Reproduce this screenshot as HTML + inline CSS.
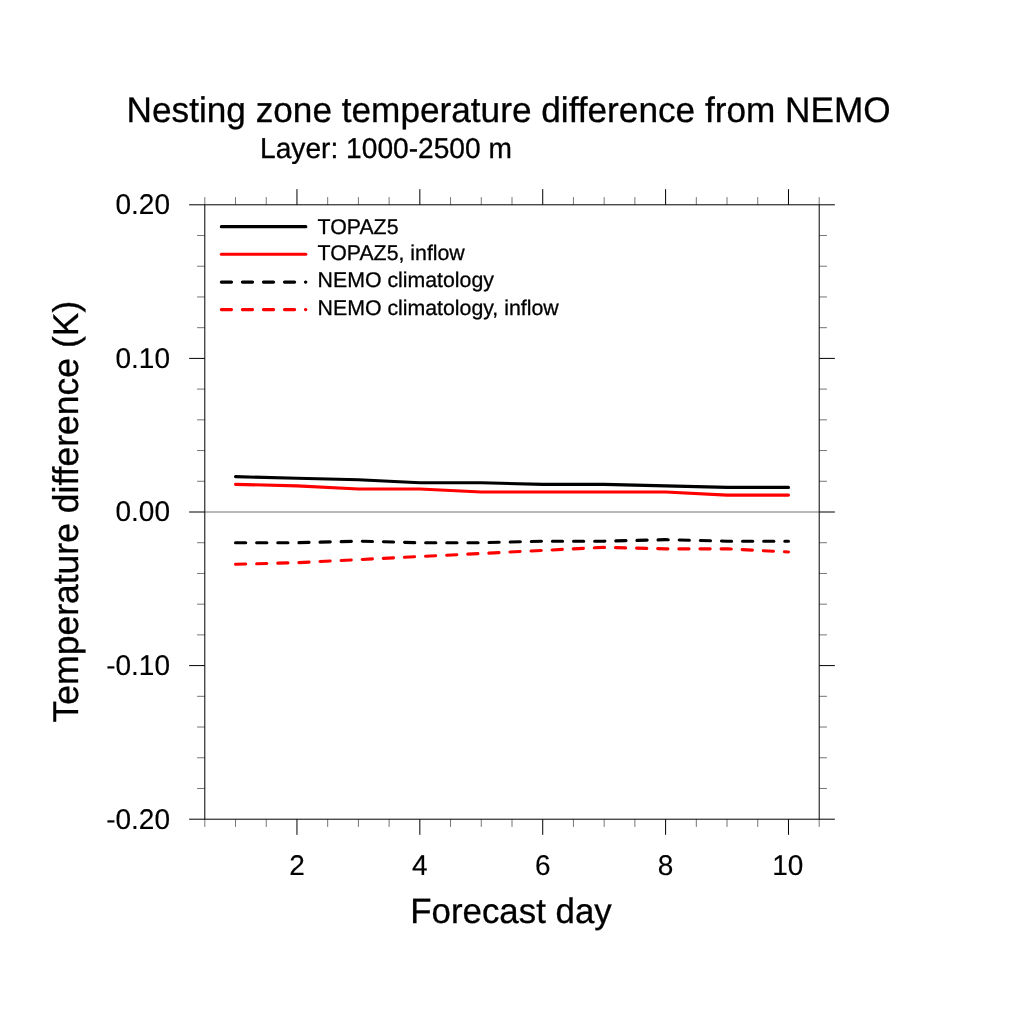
<!DOCTYPE html>
<html lang="en">
<head>
<meta charset="utf-8">
<title>Nesting zone temperature difference from NEMO</title>
<style>
html,body{margin:0;padding:0;background:#fff;}
body{width:1024px;height:1024px;overflow:hidden;}
svg{display:block;}
svg text{font-family:"Liberation Sans",Arial,Helvetica,sans-serif;fill:#000;stroke:#000;stroke-width:0.3px;text-rendering:geometricPrecision;}
</style>
</head>
<body>
<svg width="1024" height="1024" viewBox="0 0 1024 1024">
<rect width="1024" height="1024" fill="#ffffff"/>
<!-- zero reference line -->
<line x1="204.80" y1="512.00" x2="819.20" y2="512.00" stroke="#b8b8b8" stroke-width="2"/>
<!-- plot frame and tick marks -->
<g stroke="#000" fill="none" stroke-linecap="butt">
<rect x="204.80" y="204.80" width="614.40" height="614.40" stroke-width="1"/>
<path stroke-width="1" d="M296.96 204.80v-15.65M296.96 819.20v15.65M419.84 204.80v-15.65M419.84 819.20v15.65M542.72 204.80v-15.65M542.72 819.20v15.65M665.60 204.80v-15.65M665.60 819.20v15.65M788.48 204.80v-15.65M788.48 819.20v15.65M204.80 204.80h-15.65M819.20 204.80h15.65M204.80 358.40h-15.65M819.20 358.40h15.65M204.80 512.00h-15.65M819.20 512.00h15.65M204.80 665.60h-15.65M819.20 665.60h15.65M204.80 819.20h-15.65M819.20 819.20h15.65"/>
<path stroke-width="0.55" d="M204.80 204.80v-7.70M204.80 819.20v7.70M235.52 204.80v-7.70M235.52 819.20v7.70M266.24 204.80v-7.70M266.24 819.20v7.70M327.68 204.80v-7.70M327.68 819.20v7.70M358.40 204.80v-7.70M358.40 819.20v7.70M389.12 204.80v-7.70M389.12 819.20v7.70M450.56 204.80v-7.70M450.56 819.20v7.70M481.28 204.80v-7.70M481.28 819.20v7.70M512.00 204.80v-7.70M512.00 819.20v7.70M573.44 204.80v-7.70M573.44 819.20v7.70M604.16 204.80v-7.70M604.16 819.20v7.70M634.88 204.80v-7.70M634.88 819.20v7.70M696.32 204.80v-7.70M696.32 819.20v7.70M727.04 204.80v-7.70M727.04 819.20v7.70M757.76 204.80v-7.70M757.76 819.20v7.70M819.20 204.80v-7.70M819.20 819.20v7.70M204.80 235.52h-7.70M819.20 235.52h7.70M204.80 266.24h-7.70M819.20 266.24h7.70M204.80 296.96h-7.70M819.20 296.96h7.70M204.80 327.68h-7.70M819.20 327.68h7.70M204.80 389.12h-7.70M819.20 389.12h7.70M204.80 419.84h-7.70M819.20 419.84h7.70M204.80 450.56h-7.70M819.20 450.56h7.70M204.80 481.28h-7.70M819.20 481.28h7.70M204.80 542.72h-7.70M819.20 542.72h7.70M204.80 573.44h-7.70M819.20 573.44h7.70M204.80 604.16h-7.70M819.20 604.16h7.70M204.80 634.88h-7.70M819.20 634.88h7.70M204.80 696.32h-7.70M819.20 696.32h7.70M204.80 727.04h-7.70M819.20 727.04h7.70M204.80 757.76h-7.70M819.20 757.76h7.70M204.80 788.48h-7.70M819.20 788.48h7.70"/>
</g>
<!-- data curves and legend keys -->
<g fill="none" stroke-width="3.10" stroke-linecap="round" stroke-linejoin="round">
<polyline points="235.52,476.67 296.96,478.21 358.40,479.74 419.84,482.82 481.28,482.82 542.72,484.35 604.16,484.35 665.60,485.89 727.04,487.42 788.48,487.42" stroke="#000000"/>
<polyline points="235.52,484.35 296.96,485.89 358.40,488.96 419.84,488.96 481.28,492.03 542.72,492.03 604.16,492.03 665.60,492.03 727.04,495.10 788.48,495.10" stroke="#ff0000"/>
<polyline points="235.52,542.72 296.96,542.72 358.40,541.18 419.84,542.72 481.28,542.72 542.72,541.18 604.16,541.18 665.60,539.65 727.04,541.18 788.48,541.18" stroke="#000000" stroke-dasharray="10.2 10.93"/>
<polyline points="235.52,564.22 296.96,562.69 358.40,559.62 419.84,556.54 481.28,553.47 542.72,550.40 604.16,547.33 665.60,548.86 727.04,548.86 788.48,551.94" stroke="#ff0000" stroke-dasharray="10.2 10.93"/>
<line x1="221.33" y1="226.65" x2="305.82" y2="226.65" stroke="#000000"/>
<line x1="221.33" y1="254.20" x2="305.82" y2="254.20" stroke="#ff0000"/>
<line x1="221.33" y1="282.10" x2="305.82" y2="282.10" stroke="#000000" stroke-dasharray="10.2 10.84"/>
<line x1="221.33" y1="309.60" x2="305.82" y2="309.60" stroke="#ff0000" stroke-dasharray="10.2 10.84"/>
</g>
<!-- legend labels -->
<text transform="translate(317.60,234.15)" font-size="21.30">TOPAZ5</text>
<text transform="translate(317.60,260.30)" font-size="21.30">TOPAZ5, inflow</text>
<text transform="translate(317.60,287.20)" font-size="21.30">NEMO climatology</text>
<text transform="translate(317.60,315.00)" font-size="21.30">NEMO climatology, inflow</text>
<!-- titles -->
<text transform="translate(508.60,122.20) scale(1,1.010)" font-size="35.20" text-anchor="middle">Nesting zone temperature difference from NEMO</text>
<text transform="translate(386.00,158.00) scale(1,1.020)" font-size="28.15" text-anchor="middle">Layer: 1000-2500 m</text>
<!-- tick labels -->
<text transform="translate(170.00,214.20) scale(1,1.020)" font-size="28.00" text-anchor="end" style="stroke-width:0.15px">0.20</text>
<text transform="translate(170.00,367.80) scale(1,1.020)" font-size="28.00" text-anchor="end" style="stroke-width:0.15px">0.10</text>
<text transform="translate(170.00,521.40) scale(1,1.020)" font-size="28.00" text-anchor="end" style="stroke-width:0.15px">0.00</text>
<text transform="translate(170.00,675.00) scale(1,1.020)" font-size="28.00" text-anchor="end" style="stroke-width:0.15px">-0.10</text>
<text transform="translate(170.00,828.60) scale(1,1.020)" font-size="28.00" text-anchor="end" style="stroke-width:0.15px">-0.20</text>
<text transform="translate(296.96,875.00) scale(1,1.020)" font-size="28.00" text-anchor="middle" style="stroke-width:0.15px">2</text>
<text transform="translate(419.84,875.00) scale(1,1.020)" font-size="28.00" text-anchor="middle" style="stroke-width:0.15px">4</text>
<text transform="translate(542.72,875.00) scale(1,1.020)" font-size="28.00" text-anchor="middle" style="stroke-width:0.15px">6</text>
<text transform="translate(665.60,875.00) scale(1,1.020)" font-size="28.00" text-anchor="middle" style="stroke-width:0.15px">8</text>
<text transform="translate(787.88,875.00) scale(1,1.020)" font-size="28.00" text-anchor="middle" style="stroke-width:0.15px">10</text>
<!-- axis labels -->
<text transform="translate(511.00,923.00) scale(1,1.010)" font-size="34.85" text-anchor="middle">Forecast day</text>
<text transform="translate(78.20,511.60) rotate(-90) scale(1,1.010)" font-size="35.50" text-anchor="middle">Temperature difference (K)</text>
</svg>
</body>
</html>
